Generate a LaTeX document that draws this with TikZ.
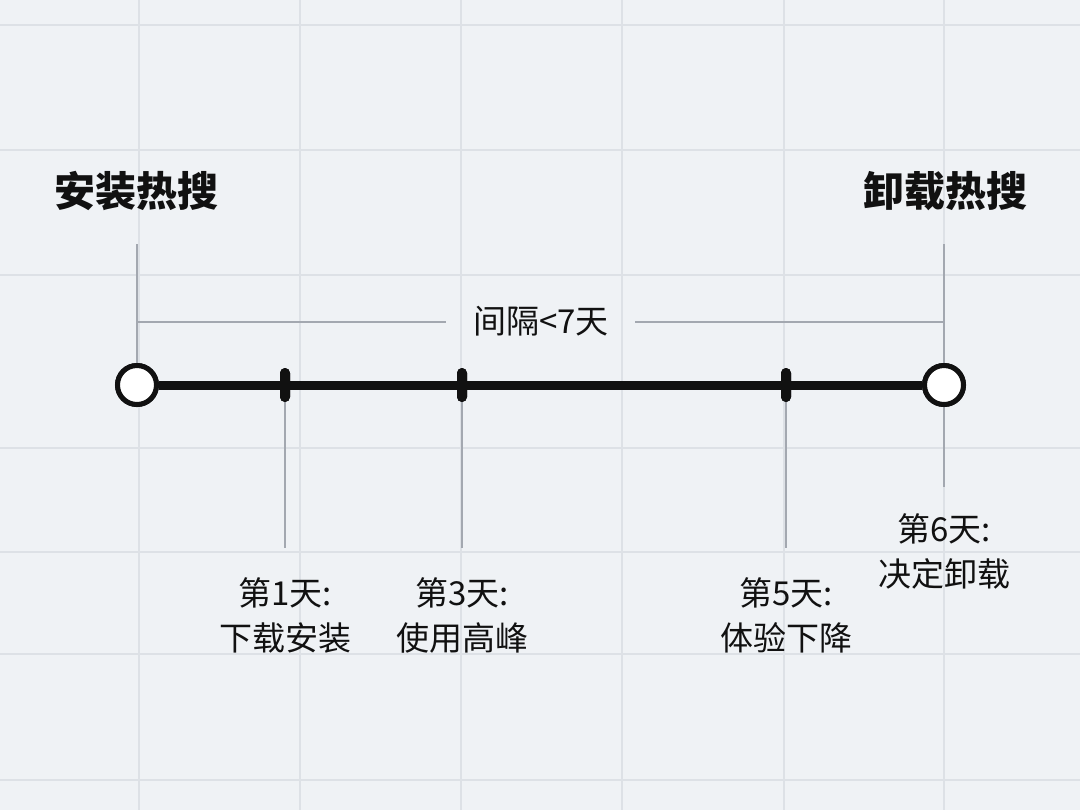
\documentclass[tikz,border=0pt]{standalone}
\usepackage{fontspec}
\newfontfamily\cjk{Noto Sans CJK SC}
\definecolor{bgc}{HTML}{EFF2F5}
\definecolor{gridc}{HTML}{DDE1E6}
\definecolor{connc}{HTML}{A3A8B0}
\definecolor{inkc}{HTML}{111111}
\begin{document}
\begin{tikzpicture}[x=0.5pt,y=-0.5pt,
  gridline/.style={draw=gridc,line width=1pt},
  axisline/.style={draw=inkc,line width=4.5pt},
  endpt/.style={circle,draw=inkc,fill=white,line width=2.5pt,minimum size=19.5pt,inner sep=0pt},
  tickmark/.style={rectangle,fill=inkc,minimum width=5pt,minimum height=17pt,rounded corners=2.5pt,inner sep=0pt},
  conn/.style={draw=connc,line width=0.8pt},
  lbl/.style={font=\cjk\fontsize{16.5pt}{22.5pt}\selectfont,text=inkc,align=center,inner sep=0pt},
  ttl/.style={font=\cjk\bfseries\fontsize{20.5pt}{24pt}\selectfont,text=inkc,inner sep=0pt}]
\fill[bgc] (0,0) rectangle (1080,810);
\useasboundingbox (0,0) rectangle (1080,810);
\foreach \x in {139,300,461,622,784,944} \draw[gridline] (\x,0) -- (\x,810);
\foreach \y in {25,150,275,448,552,654,780} \draw[gridline] (0,\y) -- (1080,\y);

% titles
\node[ttl] (tA) at (136,191) {安装热搜};
\node[ttl] (tB) at (945,191) {卸载热搜};

% axis nodes
\node[endpt] (s) at (137,385) {};
\node[endpt] (e) at (944,385) {};
\node[tickmark] (k1) at (285,385) {};
\node[tickmark] (k3) at (462,385) {};
\node[tickmark] (k5) at (786,385) {};

% interval bracket
\coordinate (sTop) at (137,244);
\coordinate (eTop) at (944,244);
\coordinate (bL) at (137,322);
\coordinate (bR) at (944,322);
\coordinate (gL) at (446,322);
\coordinate (gR) at (635,322);
\node[lbl] (gap) at (541,321) {间隔<7天};
\draw[conn] (sTop) -- (s.north);
\draw[conn] (eTop) -- (e.north);
\draw[conn] (bL) -- (gL);
\draw[conn] (gR) -- (bR);

% connectors below
\coordinate (d1) at (285,548);
\coordinate (d3) at (462,548);
\coordinate (d5) at (786,548);
\coordinate (d6) at (944,487);
\draw[conn] (k1.south) -- (d1);
\draw[conn] (k3.south) -- (d3);
\draw[conn] (k5.south) -- (d5);
\draw[conn] (e.south) -- (d6);

% axis line
\draw[axisline] (s) -- (k1) -- (k3) -- (k5) -- (e);
\node[endpt] at (s) {};
\node[endpt] at (e) {};
\node[tickmark] at (k1) {};
\node[tickmark] at (k3) {};
\node[tickmark] at (k5) {};

% labels
\node[lbl] (l1) at (285,615) {第1天:\\下载安装};
\node[lbl] (l3) at (462,615) {第3天:\\使用高峰};
\node[lbl] (l5) at (786,615) {第5天:\\体验下降};
\node[lbl] (l6) at (944,551) {第6天:\\决定卸载};
\end{tikzpicture}
\end{document}
